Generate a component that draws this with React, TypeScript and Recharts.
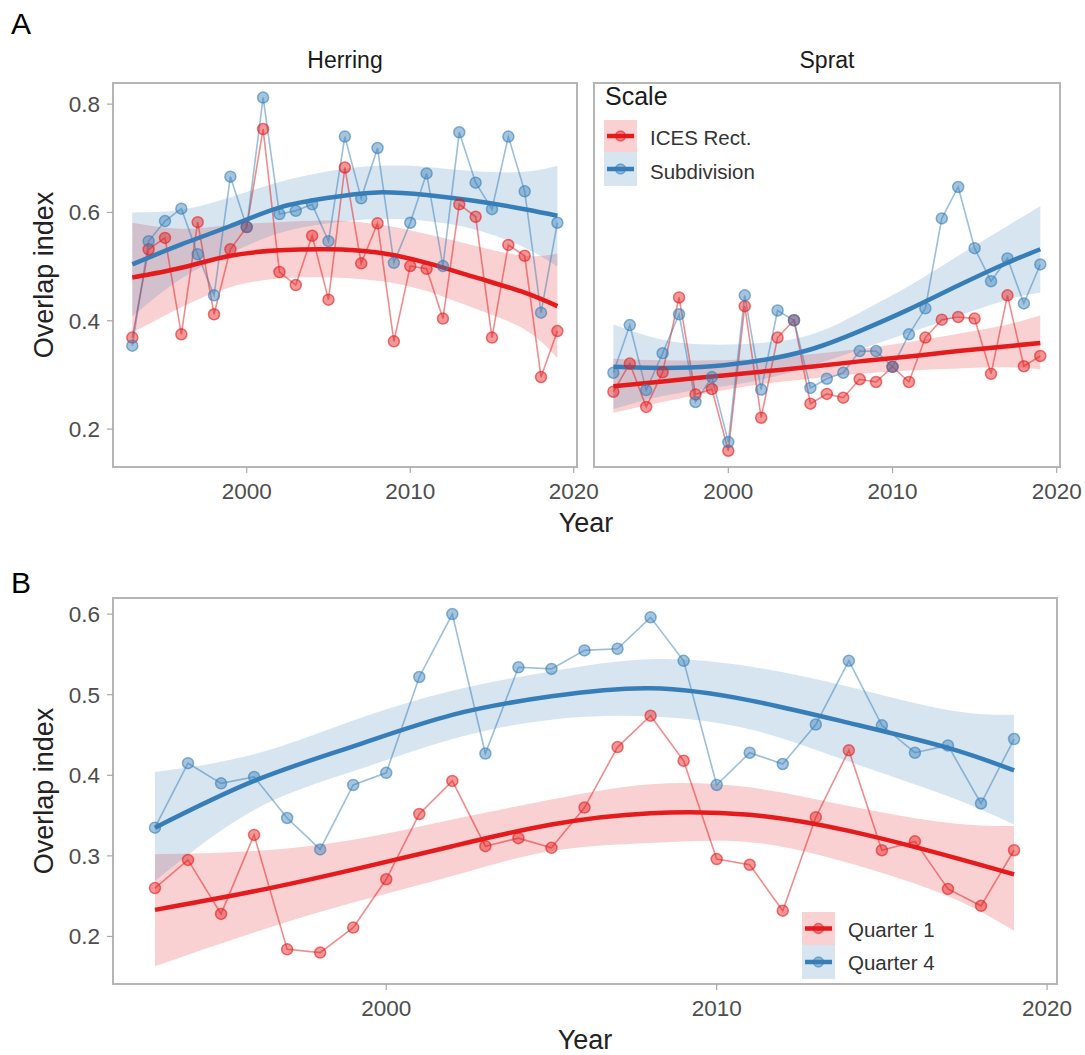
import React from 'react';
import { ComposedChart, Line, Area, XAxis, YAxis, ReferenceArea } from 'recharts';

const RED = '#E41A1C';
const BLUE = '#377EB8';
const FONT = '"Liberation Sans", Arial, Helvetica, sans-serif';
const TICK_COLOR = '#4d4d4d';
const FRAME = '#b5b5b5';

// ---------- data ----------
const years = [1993, 1994, 1995, 1996, 1997, 1998, 1999, 2000, 2001, 2002, 2003, 2004, 2005, 2006, 2007, 2008, 2009, 2010, 2011, 2012, 2013, 2014, 2015, 2016, 2017, 2018, 2019];
const fitYears = [1993, 1996, 1999, 2002, 2005, 2008, 2011, 2014, 2017, 2019];

const herringIces = [0.369, 0.532, 0.553, 0.375, 0.582, 0.412, 0.532, 0.573, 0.754, 0.490, 0.466, 0.557, 0.439, 0.683, 0.506, 0.580, 0.362, 0.501, 0.496, 0.404, 0.615, 0.592, 0.369, 0.540, 0.520, 0.296, 0.381];
const herringSub = [0.354, 0.547, 0.584, 0.607, 0.523, 0.447, 0.666, 0.573, 0.812, 0.597, 0.603, 0.615, 0.547, 0.740, 0.626, 0.719, 0.507, 0.581, 0.672, 0.501, 0.748, 0.655, 0.606, 0.740, 0.639, 0.415, 0.581];
const spratIces = [0.269, 0.321, 0.241, 0.305, 0.443, 0.264, 0.274, 0.160, 0.427, 0.221, 0.369, 0.401, 0.247, 0.265, 0.258, 0.292, 0.287, 0.315, 0.287, 0.369, 0.402, 0.407, 0.404, 0.302, 0.447, 0.316, 0.335];
const spratSub = [0.304, 0.392, 0.272, 0.340, 0.412, 0.250, 0.296, 0.176, 0.447, 0.273, 0.419, 0.401, 0.276, 0.293, 0.304, 0.344, 0.344, 0.315, 0.375, 0.423, 0.589, 0.647, 0.534, 0.473, 0.515, 0.432, 0.504];
const quarter1 = [0.260, 0.295, 0.228, 0.326, 0.184, 0.180, 0.211, 0.271, 0.352, 0.393, 0.312, 0.322, 0.310, 0.360, 0.435, 0.474, 0.418, 0.296, 0.289, 0.232, 0.348, 0.431, 0.307, 0.318, 0.259, 0.238, 0.307];
const quarter4 = [0.335, 0.415, 0.390, 0.398, 0.347, 0.308, 0.388, 0.403, 0.522, 0.600, 0.427, 0.534, 0.532, 0.555, 0.557, 0.596, 0.542, 0.388, 0.428, 0.414, 0.463, 0.542, 0.462, 0.428, 0.437, 0.365, 0.445];

const herringIcesFit = [0.480, 0.498, 0.520, 0.530, 0.532, 0.526, 0.507, 0.480, 0.452, 0.427];
const herringIcesLow = [0.378, 0.425, 0.462, 0.478, 0.480, 0.474, 0.455, 0.422, 0.384, 0.331];
const herringIcesHigh = [0.581, 0.570, 0.577, 0.582, 0.585, 0.578, 0.560, 0.538, 0.520, 0.524];
const herringSubFit = [0.504, 0.541, 0.575, 0.609, 0.627, 0.637, 0.632, 0.621, 0.606, 0.594];
const herringSubLow = [0.408, 0.478, 0.525, 0.562, 0.580, 0.588, 0.584, 0.568, 0.535, 0.500];
const herringSubHigh = [0.600, 0.605, 0.628, 0.656, 0.676, 0.686, 0.684, 0.676, 0.675, 0.686];

const spratIcesFit = [0.279, 0.288, 0.297, 0.306, 0.315, 0.325, 0.334, 0.344, 0.353, 0.359];
const spratIcesLow = [0.230, 0.250, 0.268, 0.283, 0.293, 0.302, 0.308, 0.312, 0.314, 0.310];
const spratIcesHigh = [0.330, 0.327, 0.327, 0.330, 0.338, 0.348, 0.361, 0.376, 0.393, 0.410];
const spratSubFit = [0.315, 0.313, 0.316, 0.327, 0.347, 0.381, 0.421, 0.465, 0.507, 0.532];
const spratSubLow = [0.237, 0.261, 0.276, 0.291, 0.316, 0.347, 0.378, 0.409, 0.439, 0.452];
const spratSubHigh = [0.393, 0.365, 0.356, 0.359, 0.374, 0.415, 0.464, 0.520, 0.575, 0.612];

const q1Fit = [0.233, 0.256, 0.283, 0.312, 0.339, 0.353, 0.351, 0.331, 0.300, 0.277];
const q1Low = [0.163, 0.205, 0.242, 0.275, 0.306, 0.316, 0.317, 0.291, 0.250, 0.207];
const q1High = [0.302, 0.306, 0.320, 0.345, 0.370, 0.389, 0.385, 0.362, 0.341, 0.337];
const q4Fit = [0.335, 0.393, 0.436, 0.475, 0.498, 0.508, 0.493, 0.465, 0.434, 0.406];
const q4Low = [0.269, 0.357, 0.405, 0.445, 0.469, 0.473, 0.457, 0.417, 0.374, 0.339];
const q4High = [0.404, 0.426, 0.468, 0.505, 0.529, 0.544, 0.535, 0.510, 0.481, 0.475];

const xTicks = [2000, 2010, 2020];
const yTicksA = [0.2, 0.4, 0.6, 0.8];
const yTicksB = [0.2, 0.3, 0.4, 0.5, 0.6];

// ---------- helpers ----------
type Series = { color: string; points: number[]; fit: number[]; low: number[]; high: number[] };

const pointRows = (vals: number[]) => years.map((y, i) => ({ year: y, v: vals[i] }));
const fitRows = (fit: number[], low: number[], high: number[]) =>
  fitYears.map((y, i) => ({ year: y, fit: fit[i], band: [low[i], high[i]] }));

type PanelProps = {
  left: number; top: number; width: number; height: number;
  margin: { top: number; right: number; bottom: number; left: number };
  xDomain: [number, number]; yDomain: [number, number]; yTicks: number[];
  showY: boolean; xHeight: number; series: Series[];
};

const tickStyle = { fontSize: 22.5, fill: TICK_COLOR, fontFamily: FONT };

function Panel(p: PanelProps) {
  return (
    <div style={{ position: 'absolute', left: p.left, top: p.top }}>
      <ComposedChart width={p.width} height={p.height} margin={p.margin}>
        <XAxis
          type="number" dataKey="year" domain={p.xDomain} ticks={xTicks} allowDataOverflow
          axisLine={false} tickLine={{ stroke: '#a8a8a8', strokeWidth: 1.2 }} tickSize={6} tickMargin={10}
          height={p.xHeight} tick={tickStyle} interval={0}
        />
        <YAxis
          type="number" domain={p.yDomain} ticks={p.yTicks} allowDataOverflow hide={!p.showY}
          width={113} axisLine={false} tickLine={{ stroke: '#a8a8a8', strokeWidth: 1.2 }} tickSize={6} tickMargin={7}
          tick={tickStyle} tickFormatter={(v: number) => v.toFixed(1)} interval={0}
        />
        {p.series.map((s, i) => (
          <Area key={'band' + i} data={fitRows(s.fit, s.low, s.high)} dataKey="band" type="natural"
            stroke="none" fill={s.color} fillOpacity={0.2} isAnimationActive={false} />
        ))}
        {p.series.map((s, i) => (
          <Line key={'pts' + i} data={pointRows(s.points)} dataKey="v" type="linear"
            stroke={s.color} strokeOpacity={0.5} strokeWidth={1.6}
            dot={{ r: 5.5, fill: s.color, fillOpacity: 0.45, stroke: s.color, strokeOpacity: 0.6, strokeWidth: 1.5 }}
            isAnimationActive={false} />
        ))}
        {p.series.map((s, i) => (
          <Line key={'fit' + i} data={fitRows(s.fit, s.low, s.high)} dataKey="fit" type="natural"
            stroke={s.color} strokeWidth={4.5} dot={false} isAnimationActive={false} />
        ))}
        <ReferenceArea x1={p.xDomain[0]} x2={p.xDomain[1]} y1={p.yDomain[0]} y2={p.yDomain[1]}
          fill="none" fillOpacity={0} stroke={FRAME} strokeWidth={2} ifOverflow="visible" />
      </ComposedChart>
    </div>
  );
}

function LegendKey({ x, y, h, color }: { x: number; y: number; h: number; color: string }) {
  const cy = y + h / 2;
  return (
    <g>
      <rect x={x} y={y} width={33} height={h} fill={color} fillOpacity={0.2} />
      <line x1={x + 3} x2={x + 30} y1={cy} y2={cy} stroke={color} strokeWidth={4.5} />
      <circle cx={x + 16.5} cy={cy} r={5} fill={color} fillOpacity={0.45} stroke={color} strokeOpacity={0.55} strokeWidth={1.5} />
    </g>
  );
}

export default function App() {
  const xA: [number, number] = [1991.82, 2020.2];
  const yA: [number, number] = [0.13, 0.839];
  const xB: [number, number] = [1991.73, 2020.3];
  const yB: [number, number] = [0.141, 0.62];

  return (
    <div style={{ position: 'absolute', left: 0, top: 0, width: 1085, height: 1055, background: '#fff', fontFamily: FONT, overflow: 'hidden' }}>
      <Panel left={0} top={0} width={610} height={540} margin={{ top: 83, right: 33, bottom: 0, left: 0 }}
        xDomain={xA} yDomain={yA} yTicks={yTicksA} showY xHeight={73}
        series={[
          { color: RED, points: herringIces, fit: herringIcesFit, low: herringIcesLow, high: herringIcesHigh },
          { color: BLUE, points: herringSub, fit: herringSubFit, low: herringSubLow, high: herringSubHigh },
        ]} />
      <Panel left={590} top={0} width={495} height={540} margin={{ top: 83, right: 25, bottom: 0, left: 4 }}
        xDomain={xA} yDomain={yA} yTicks={yTicksA} showY={false} xHeight={73}
        series={[
          { color: RED, points: spratIces, fit: spratIcesFit, low: spratIcesLow, high: spratIcesHigh },
          { color: BLUE, points: spratSub, fit: spratSubFit, low: spratSubLow, high: spratSubHigh },
        ]} />
      <Panel left={0} top={515} width={1085} height={529} margin={{ top: 83, right: 28, bottom: 0, left: 0 }}
        xDomain={xB} yDomain={yB} yTicks={yTicksB} showY xHeight={60}
        series={[
          { color: RED, points: quarter1, fit: q1Fit, low: q1Low, high: q1High },
          { color: BLUE, points: quarter4, fit: q4Fit, low: q4Low, high: q4High },
        ]} />

      <svg width={1085} height={1055} style={{ position: 'absolute', left: 0, top: 0, pointerEvents: 'none' }}
        fontFamily={FONT}>
        <text x={11} y={34} fontSize={30} fill="#000">A</text>
        <text x={11} y={593} fontSize={30} fill="#000">B</text>
        <text x={345} y={68} fontSize={23} fill="#1a1a1a" textAnchor="middle">Herring</text>
        <text x={827} y={68} fontSize={23} fill="#1a1a1a" textAnchor="middle">Sprat</text>
        <text transform="translate(53,275) rotate(-90)" fontSize={27} fill="#222" textAnchor="middle">Overlap index</text>
        <text transform="translate(53,791) rotate(-90)" fontSize={27} fill="#222" textAnchor="middle">Overlap index</text>
        <text x={586} y={532} fontSize={27} fill="#222" textAnchor="middle">Year</text>
        <text x={585} y={1049} fontSize={27} fill="#222" textAnchor="middle">Year</text>

        <text x={605} y={105} fontSize={25} fill="#1a1a1a">Scale</text>
        <LegendKey x={604} y={120} h={32} color={RED} />
        <LegendKey x={604} y={152} h={34} color={BLUE} />
        <text x={650} y={145} fontSize={20.5} fill="#333">ICES Rect.</text>
        <text x={650} y={179} fontSize={20.5} fill="#333">Subdivision</text>

        <LegendKey x={802} y={912} h={33} color={RED} />
        <LegendKey x={802} y={945} h={34} color={BLUE} />
        <text x={848} y={937} fontSize={20.5} fill="#333">Quarter 1</text>
        <text x={848} y={970} fontSize={20.5} fill="#333">Quarter 4</text>
      </svg>
    </div>
  );
}
